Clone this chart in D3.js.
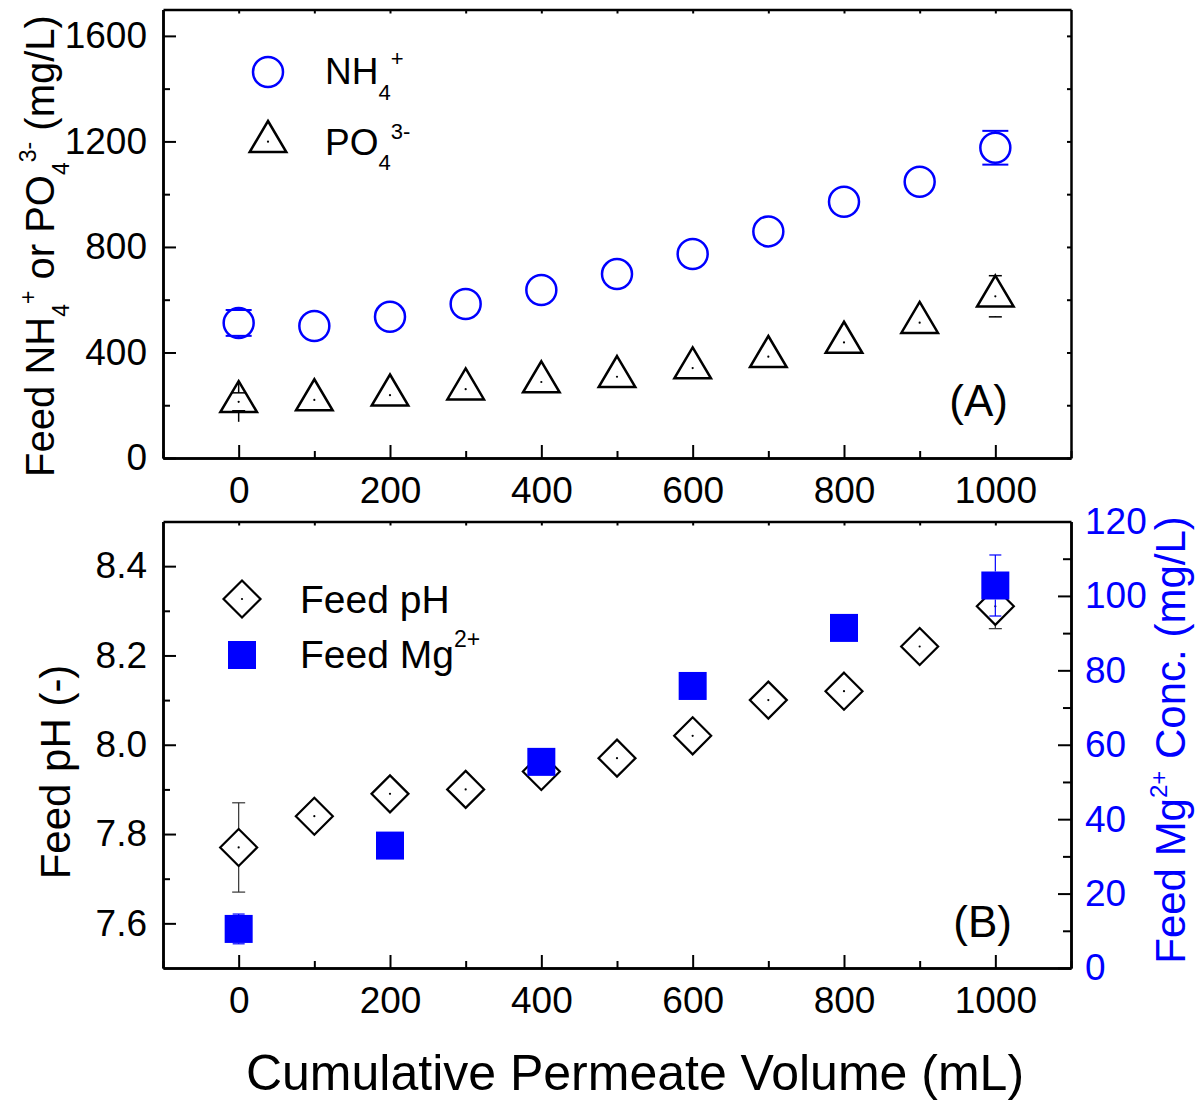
<!DOCTYPE html>
<html>
<head>
<meta charset="utf-8">
<script src="https://cdn.jsdelivr.net/npm/d3@7"></script>
<style>
  body { margin: 0; background: #fff; }
  text { font-family: "Liberation Sans", Arial, Helvetica, sans-serif; white-space: pre; }
</style>
</head>
<body>
<svg id="chart" width="1197" height="1101"></svg>
<script>
// -------------------- DATA -------------------- //
let volume = [0, 100, 200, 300, 400, 500, 600, 700, 800, 900, 1000];
let nh4 = [512, 500, 535, 584, 637, 697, 773, 859, 971, 1047, 1176];
let nh4Err = [49, null, null, null, null, null, null, null, null, null, 64];
let po4 = [213, 220, 238, 261, 288, 308, 341, 384, 438, 513, 613];
let po4Err = [34, null, null, null, null, null, null, null, null, null, 78];

let ph = [7.77, 7.84, 7.89, 7.90, 7.94, 7.97, 8.02, 8.10, 8.12, 8.22, 8.31];
let phErr = [0.10, null, null, null, null, null, null, null, null, null, 0.05];
let mgVolume = [0, 200, 400, 600, 800, 1000];
let mg = [10.5, 32.9, 55.4, 75.8, 91.4, 102.8];
let mgErr = [4, null, null, null, null, 8.2];

let xTicks = [0, 200, 400, 600, 800, 1000];
let yTicksA = [0, 400, 800, 1200, 1600];
let yTicksB = [7.6, 7.8, 8.0, 8.2, 8.4];
let yTicksMg = [0, 20, 40, 60, 80, 100, 120];

const BLUE = "#0000ff";
let svg = d3.select("#chart");

// -------------------- SCALES -------------------- //
let left = 163, right = 1071;
let xA = d3.scaleLinear().domain([-100, 1100]).range([left, right]);
let yA = d3.scaleLinear().domain([0, 1700]).range([458, 9.5]);
let xB = d3.scaleLinear().domain([-100, 1100]).range([left, right]);
let yB = d3.scaleLinear().domain([7.5, 8.5]).range([968, 521.5]);
let yMg = d3.scaleLinear().domain([0, 120]).range([968, 521.5]);

// text with sub/superscripts
function rich(textSel, parts, small, up, down) {
    let cur = 0;
    parts.forEach(p => {
        let target = p[1] === "sub" ? down : p[1] === "sup" ? -up : 0;
        textSel.append("tspan")
            .attr("dy", target - cur)
            .style("font-size", p[1] ? small + "px" : null)
            .text(p[0]);
        cur = target;
    });
}

function styleAxis(g, w) {
    g.selectAll("path.domain").attr("stroke", "#000").attr("stroke-width", w);
    g.selectAll(".tick line").attr("stroke", "#000").attr("stroke-width", 2);
    g.selectAll(".tick text").attr("fill", "#000").style("font-size", "37px");
}

// -------------------- FRAME + AXES -------------------- //
function frame(x, y, yTicks, yMinor, yFmt, yTop, yBottom, mirrorRight) {
    // left
    let gl = svg.append("g").attr("transform", `translate(${left},0)`)
        .call(d3.axisLeft(y).tickValues(yTicks).tickFormat(yFmt).tickSize(-13).tickSizeOuter(0).tickPadding(16));
    styleAxis(gl, 2.5);
    let glm = svg.append("g").attr("transform", `translate(${left},0)`)
        .call(d3.axisLeft(y).tickValues(yMinor).tickSize(-7).tickSizeOuter(0).tickFormat(""));
    styleAxis(glm, 2.5);
    // bottom
    let gb = svg.append("g").attr("transform", `translate(0,${yBottom})`)
        .call(d3.axisBottom(x).tickValues(xTicks).tickFormat(d3.format("d")).tickSize(-13).tickSizeOuter(0).tickPadding(19));
    styleAxis(gb, 2.5);
    let gbm = svg.append("g").attr("transform", `translate(0,${yBottom})`)
        .call(d3.axisBottom(x).tickValues([-100, 100, 300, 500, 700, 900, 1100]).tickSize(-7).tickSizeOuter(0).tickFormat(""));
    styleAxis(gbm, 2.5);
    // top mirror
    let gt = svg.append("g").attr("transform", `translate(0,${yTop})`)
        .call(d3.axisTop(x).tickValues(d3.range(0, 1001, 100)).tickSize(-4).tickSizeOuter(0).tickFormat(""));
    styleAxis(gt, 2.5);
    if (mirrorRight) {
        let gr = svg.append("g").attr("transform", `translate(${right},0)`)
            .call(d3.axisRight(y).tickValues(yTicks.concat(yMinor)).tickSize(-4).tickSizeOuter(0).tickFormat(""));
        styleAxis(gr, 2.5);
    }
}

frame(xA, yA, yTicksA, [200, 600, 1000, 1400], d3.format("d"), 9.5, 458, true);
frame(xB, yB, yTicksB, [7.7, 7.9, 8.1, 8.3], d3.format(".1f"), 521.5, 968, false);

// right Mg axis
let gMg = svg.append("g").attr("transform", `translate(${right},0)`)
    .call(d3.axisRight(yMg).tickValues(yTicksMg).tickFormat(d3.format("d")).tickSize(-13).tickSizeOuter(0).tickPadding(14));
styleAxis(gMg, 2.5);
gMg.selectAll(".tick text").attr("fill", BLUE);
let gMgm = svg.append("g").attr("transform", `translate(${right},0)`)
    .call(d3.axisRight(yMg).tickValues([10, 30, 50, 70, 90, 110]).tickSize(-8).tickSizeOuter(0).tickFormat(""));
styleAxis(gMgm, 2.5);

// -------------------- ERROR BARS -------------------- //
// Origin style: line runs from the marker edge to the cap
function errorBars(xs, vals, errs, x, y, edge, cap, color, width) {
    let g = svg.append("g");
    xs.forEach((v, i) => {
        if (errs[i] == null) return;
        let cx = x(v), cy = y(vals[i]);
        [1, -1].forEach(s => {
            let ey = y(vals[i] + s * errs[i]);
            let sy = cy - s * edge;
            g.append("line").attr("x1", cx).attr("x2", cx).attr("y1", sy).attr("y2", ey)
                .attr("stroke", color).attr("stroke-width", width);
            g.append("line").attr("x1", cx - cap / 2).attr("x2", cx + cap / 2).attr("y1", ey).attr("y2", ey)
                .attr("stroke", color).attr("stroke-width", width);
        });
    });
}

// -------------------- MARKERS -------------------- //
let triPath = "M0,-20.7L18.3,10.3L-18.3,10.3Z";
let diaPath = "M0,-18.5L18.5,0L0,18.5L-18.5,0Z";

function circles(g, pts) {
    g.selectAll(null).data(pts).enter().append("circle")
        .attr("cx", d => d[0]).attr("cy", d => d[1]).attr("r", 15)
        .attr("fill", "none").attr("stroke", BLUE).attr("stroke-width", 2.5);
}
function dotted(g, pts, path, sw) {
    let m = g.selectAll(null).data(pts).enter().append("g")
        .attr("transform", d => `translate(${d[0]},${d[1]})`);
    m.append("path").attr("d", path).attr("fill", "none").attr("stroke", "#000")
        .attr("stroke-width", sw).attr("stroke-linejoin", "miter");
    m.append("circle").attr("r", 1.1).attr("fill", "#000");
}
function squares(g, pts) {
    g.selectAll(null).data(pts).enter().append("rect")
        .attr("x", d => d[0] - 14).attr("y", d => d[1] - 14)
        .attr("width", 28).attr("height", 28).attr("fill", BLUE);
}

// Panel A
errorBars(volume, nh4, nh4Err, xA, yA, 15, 26, BLUE, 2);
errorBars(volume, po4, po4Err, xA, yA, 20, 13, "#000", 1.5);
circles(svg.append("g"), volume.map((v, i) => [xA(v), yA(nh4[i])]));
dotted(svg.append("g"), volume.map((v, i) => [xA(v), yA(po4[i])]), triPath, 2.5);

// Panel B
errorBars(volume, ph, phErr, xB, yB, 18.5, 13, "#333", 1.2);
dotted(svg.append("g"), volume.map((v, i) => [xB(v), yB(ph[i])]), diaPath, 2.2);
errorBars(mgVolume, mg, mgErr, xB, yMg, 14, 12, BLUE, 1.2);
squares(svg.append("g"), mgVolume.map((v, i) => [xB(v), yMg(mg[i])]));

// -------------------- LEGENDS -------------------- //
circles(svg.append("g"), [[268, 72]]);
dotted(svg.append("g"), [[268, 141.7]], triPath, 2.5);
rich(svg.append("text").attr("x", 325).attr("y", 84).style("font-size", "37px"),
    [["NH"], ["4", "sub"], ["+", "sup"]], 22, 18, 16);
rich(svg.append("text").attr("x", 325).attr("y", 155).style("font-size", "37px"),
    [["PO"], ["4", "sub"], ["3-", "sup"]], 22, 16, 15);

dotted(svg.append("g"), [[242, 599]], diaPath, 2.2);
squares(svg.append("g"), [[242, 655]]);
svg.append("text").attr("x", 300).attr("y", 613).style("font-size", "39px").text("Feed pH");
rich(svg.append("text").attr("x", 300).attr("y", 668).style("font-size", "39px"),
    [["Feed Mg"], ["2+", "sup"]], 23, 21, 0);

// panel tags
svg.append("text").attr("x", 1008).attr("y", 416).attr("text-anchor", "end").style("font-size", "44px").text("(A)");
svg.append("text").attr("x", 1012).attr("y", 937).attr("text-anchor", "end").style("font-size", "44px").text("(B)");

// -------------------- AXIS TITLES -------------------- //
rich(svg.append("text").attr("transform", "translate(54,246) rotate(-90)")
        .attr("text-anchor", "middle").style("font-size", "40px"),
    [["Feed NH"], ["4", "sub"], ["+", "sup"], [" or PO"], ["4", "sub"], ["3-", "sup"], [" (mg/L)"]], 23, 18, 15);

svg.append("text").attr("transform", "translate(70,772) rotate(-90)")
    .attr("text-anchor", "middle").style("font-size", "42px").text("Feed pH (-)");

rich(svg.append("text").attr("transform", "translate(1185,740) rotate(-90)")
        .attr("text-anchor", "middle").style("font-size", "42px").attr("fill", BLUE),
    [["Feed Mg"], ["2+", "sup"], [" Conc. (mg/L)"]], 24, 18, 0);

svg.append("text").attr("x", 635).attr("y", 1090).attr("text-anchor", "middle")
    .style("font-size", "50px").text("Cumulative Permeate Volume (mL)");
</script>
</body>
</html>
